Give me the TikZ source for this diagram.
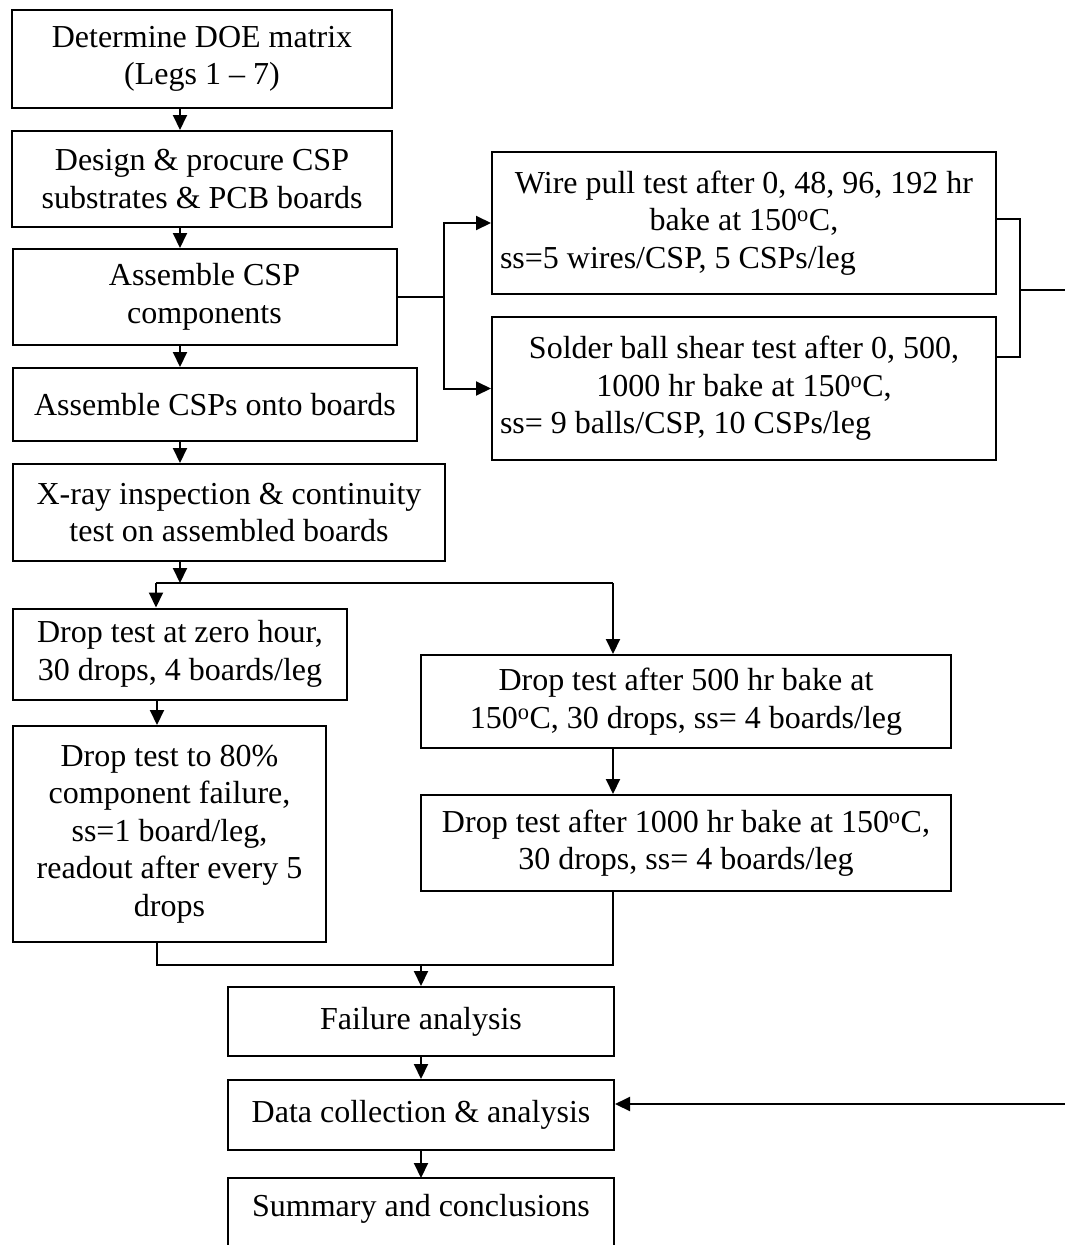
\documentclass[tikz,border=0pt]{standalone}
\usepackage{fontspec}
\setmainfont{Liberation Serif}
\usetikzlibrary{arrows.meta,calc}
\setlength\parindent{0pt}
\newcommand{\fsz}{\fontsize{32}{37.5}\selectfont}
\newcommand{\cl}[1]{\makebox[488pt][c]{#1}}
\begin{document}
\begin{tikzpicture}[x=1pt,y=-1pt,
  box/.style={draw,line width=2pt,inner sep=0pt,align=center,font=\fsz},
  lbl/.style={inner sep=0pt,align=center,font=\fsz},
  wbox/.style={draw,line width=2pt,inner ysep=0pt,inner xsep=8pt,align=left,font=\fsz},
  conn/.style={line width=2pt},
  arr/.style={line width=2pt,-{Triangle[length=15pt,width=14pt]}}]
\useasboundingbox (0,0) rectangle (1065,1245);
\fill[white] (0,0) rectangle (1065,1245);
% left column
\node[box,minimum width=380pt,minimum height=98pt] (A) at (202,59) {Determine DOE matrix\\(Legs 1 -- 7)};
\node[box,minimum width=380pt,minimum height=96pt] (B) at (202,179) {Design \& procure CSP\\substrates \& PCB boards};
\node[box,minimum width=384pt,minimum height=96pt] (C) at (204.5,297) {Assemble CSP\\components};
\node[box,minimum width=404pt,minimum height=73pt] (D) at (215,404.5) {Assemble CSPs onto boards};
\node[box,minimum width=432pt,minimum height=97pt] (X) at (229,512.5) {X-ray inspection \& continuity\\test on assembled boards};
\node[box,minimum width=334pt,minimum height=91pt] (Dz) at (180,654) {Drop test at zero hour,\\30 drops, 4 boards/leg};
\node[box,minimum width=313pt,minimum height=216pt] (D80) at (169.5,834) {Drop test to 80\%\\component failure,\\ss=1 board/leg,\\readout after every 5\\drops};
% right column
\node[box,minimum width=530pt,minimum height=93pt] (D500) at (686,701.5) {Drop test after 500 hr bake at\\150\textsuperscript{o}C, 30 drops, ss= 4 boards/leg};
\node[box,minimum width=530pt,minimum height=96pt] (D1000) at (686,843) {Drop test after 1000 hr bake at 150\textsuperscript{o}C,\\30 drops, ss= 4 boards/leg};
\node[wbox,minimum width=504pt,minimum height=142pt] (W) at (744,223) {\cl{Wire pull test after 0, 48, 96, 192 hr}\\\cl{bake at 150\textsuperscript{o}C,}\\ss=5 wires/CSP, 5 CSPs/leg};
\node[wbox,minimum width=504pt,minimum height=143pt] (S) at (744,388.5) {\cl{Solder ball shear test after 0, 500,}\\\cl{1000 hr bake at 150\textsuperscript{o}C,}\\ss= 9 balls/CSP, 10 CSPs/leg};
% bottom
\node[box,minimum width=386pt,minimum height=69pt] (F) at (421,1021.5) {Failure analysis};
\node[box,minimum width=386pt,minimum height=70pt] (DC) at (421,1115) {Data collection \& analysis};
\node[lbl] (SUM) at (421,1209) {Summary and conclusions};
\draw[conn] (228,1275) -- (228,1178) coordinate (sumtl) -- (614,1178) -- (614,1275);
% coordinates
\coordinate (colx) at (180,0);
\coordinate (br) at (444,297);
\coordinate (bt) at (1020,219);
\coordinate (bb) at (1020,357);
\coordinate (e1) at (1065,290);
\coordinate (e2) at (1065,1104);
\coordinate (sp) at (180,583);
\coordinate (sl) at (156,583);
\coordinate (sr) at (613,583);
\coordinate (ml) at (157,965);
\coordinate (mr) at (613,965);
\coordinate (mc) at (421,965);
% main flow
\draw[arr] (A.south -| colx) -- (B.north -| colx);
\draw[arr] (B.south -| colx) -- (C.north -| colx);
\draw[arr] (C.south -| colx) -- (D.north -| colx);
\draw[arr] (D.south -| colx) -- (X.north -| colx);
\draw[arr] (X.south -| colx) -- (sp);
\draw[conn] (sl) -- (sr);
\draw[arr] (sl) -- (Dz.north -| sl);
\draw[arr] (sr) -- (D500.north -| sr);
\draw[arr] (Dz.south -| ml) -- (D80.north -| ml);
\draw[arr] (D500.south -| sr) -- (D1000.north -| sr);
\draw[conn] (D80.south -| ml) -- (ml) -- (mr) -- (D1000.south -| mr);
\draw[arr] (mc) -- (F.north);
\draw[arr] (F.south) -- (DC.north);
\draw[arr] (DC.south) -- (sumtl -| DC.south);
% branch to tests
\draw[conn] (C.east) -- (br);
\draw[arr] (br) |- (W.west);
\draw[arr] (br) |- (S.west);
\draw[conn] (W.east |- bt) -- (bt) -- (bb) -- (S.east |- bb);
\draw[conn] (bt |- e1) -- (e1);
\draw[arr] (e2) -- (DC.east |- e2);
\end{tikzpicture}
\end{document}
